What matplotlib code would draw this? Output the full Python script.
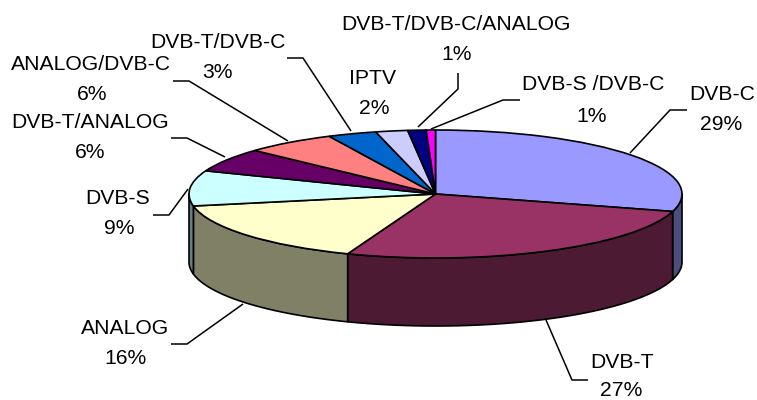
import matplotlib
matplotlib.use("Agg")
import matplotlib.pyplot as plt
from matplotlib.patches import Wedge, Polygon
from matplotlib.transforms import Affine2D
import numpy as np

labels = ["DVB-C", "DVB-T", "ANALOG", "DVB-S", "DVB-T/ANALOG", "ANALOG/DVB-C",
          "DVB-T/DVB-C", "IPTV", "DVB-T/DVB-C/ANALOG", "DVB-S /DVB-C"]
values = [29.4, 26.4, 16.2, 8.9, 6.0, 6.0, 3.2, 2.1, 1.2, 0.6]
pct_labels = ["29%", "27%", "16%", "9%", "6%", "6%", "3%", "2%", "1%", "1%"]
top_colors = ["#9999FF", "#993366", "#FFFFCC", "#CCFFFF", "#660066", "#FF8080",
              "#0066CC", "#CCCCFF", "#000080", "#FF00FF"]
side_colors = ["#4D4D80", "#4D1A33", "#808066", "#668080", "#330033", "#804040",
               "#003366", "#666680", "#000040", "#800080"]

# layout in image pixels
name_pos = [(722, 94), (622, 363), (125, 328), (118, 198), (90, 122), (91, 65),
            (218, 42), (373, 79), (456, 24), (593, 84)]
pct_pos = [(721, 125), (621, 390), (125, 358), (119, 229), (90, 152), (92, 95),
           (217, 72), (374, 109), (457, 54), (592, 116)]
leaders = [[(687, 110), (670, 110), (630, 153)],
           [(588, 380), (572, 380), (546, 320)],
           [(171, 344), (187, 344), (243, 304)],
           [(153, 215), (169, 215), (188, 189)],
           [(171, 138), (187, 138), (225, 157)],
           [(173, 81), (189, 81), (288, 141)],
           [(287, 58), (303, 58), (351, 131)],
           None,
           [(458, 73), (458, 89), (418, 127)],
           [(520, 100), (503, 100), (431, 129)]]
cx, cy, rx, ry, depth = 435.5, 194, 246.5, 64, 68

fig = plt.figure(figsize=(7.57, 4.0), dpi=100)
ax = fig.add_axes([0, 0, 1, 1])
ax.set_xlim(0, 757)
ax.set_ylim(400, 0)
ax.axis("off")

# y axis points down, so growing angles run clockwise from the top
edges = -90 + np.concatenate(([0], np.cumsum(values))) / np.sum(values) * 360
ring = Affine2D().scale(rx, ry).translate(cx, cy) + ax.transData

for i in range(len(values)):
    t1, t2 = max(edges[i], 0), min(edges[i + 1], 180)
    if t1 < t2:
        t = np.radians(np.linspace(t1, t2, 80))
        x = cx + rx * np.cos(t)
        y = cy + ry * np.sin(t)
        pts = np.column_stack((np.r_[x, x[::-1]], np.r_[y, y[::-1] + depth]))
        ax.add_patch(Polygon(pts, closed=True, facecolor=side_colors[i],
                             edgecolor="black", lw=1.2, joinstyle="round"))

for i in range(len(values)):
    ax.add_patch(Wedge((0, 0), 1, edges[i], edges[i + 1], transform=ring,
                       facecolor=top_colors[i], edgecolor="black", lw=1.2))

for line in leaders:
    if line is not None:
        xs, ys = zip(*line)
        ax.plot(xs, ys, color="black", lw=1.1, solid_capstyle="butt")

for i in range(len(labels)):
    ax.text(*name_pos[i], labels[i], ha="center", va="center", fontsize=15.2,
            family="Liberation Sans", color="black")
    ax.text(*pct_pos[i], pct_labels[i], ha="center", va="center", fontsize=15.2,
            family="Liberation Sans", color="black")

fig.savefig("out.png", dpi=100)
